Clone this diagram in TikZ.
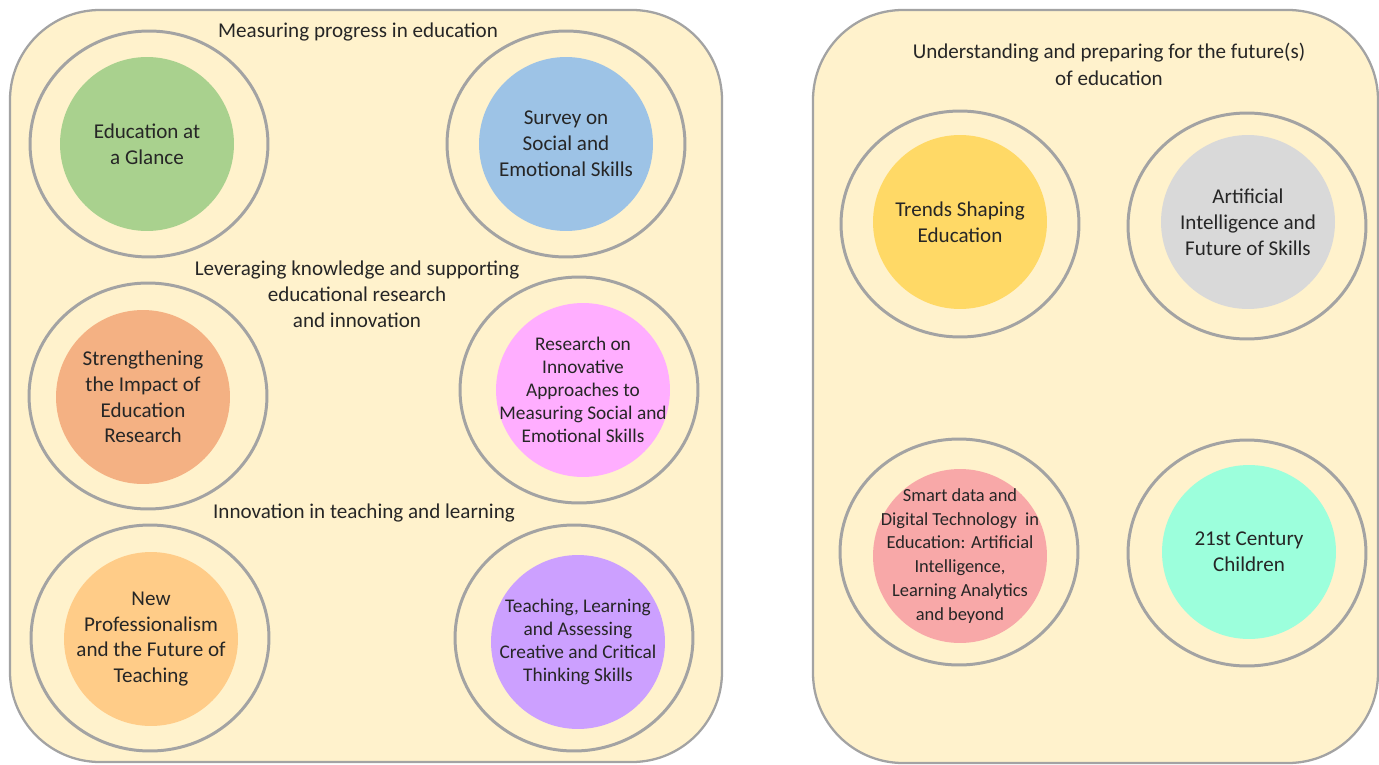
\documentclass[tikz,border=0pt]{standalone}
\usepackage{fontspec}
\setmainfont{Carlito}
\usetikzlibrary{shapes.geometric}
\definecolor{panelbg}{HTML}{FFF2CC}
\definecolor{ringgray}{HTML}{A3A3A3}
\definecolor{txt}{HTML}{262626}
\definecolor{cgreen}{HTML}{A9D18E}
\definecolor{cblue}{HTML}{9DC3E6}
\definecolor{corange}{HTML}{F4B183}
\definecolor{cpink}{HTML}{FFAEFF}
\definecolor{capricot}{HTML}{FFCC88}
\definecolor{cpurple}{HTML}{CCA0FF}
\definecolor{cyellow}{HTML}{FFD966}
\definecolor{cgrey}{HTML}{D9D9D9}
\definecolor{cred}{HTML}{F8A8A8}
\definecolor{cteal}{HTML}{9CFFDC}
\begin{document}
\begin{tikzpicture}[x=0.02cm, y=-0.02cm,
    panel/.style={draw=ringgray, line width=1.3pt, fill=panelbg, rounded corners=1.8cm},
    ring/.style={ellipse, draw=ringgray, line width=1.7pt, fill=panelbg,
        minimum width=4.76cm, minimum height=4.52cm, inner sep=0pt},
    topic/.style={circle, minimum size=3.48cm, inner sep=-0.5cm, align=center, text=txt,
        font=\fontsize{12}{14.7}\selectfont},
    small/.style={font=\fontsize{11}{13}\selectfont},
    heading/.style={align=center, text=txt, font=\fontsize{12}{14.7}\selectfont}]
\useasboundingbox (0,0) rectangle (1379,764);

% the two panels
\draw[panel] (10,10) rectangle (722,762);
\draw[panel] (813,10) rectangle (1378,763);

% left panel
\node (measuring) at (358,32) [heading] {Measuring progress in education};
\node (leveraging) at (357,294) [heading] {Leveraging knowledge and supporting\\educational research\\and innovation};
\node (innovation) at (364,513) [heading] {Innovation in teaching and learning};

\node (glance-ring) at (149,144) [ring] {};
\node (glance) at (147,144) [topic, fill=cgreen] {Education at\\a Glance};
\node (survey-ring) at (566,144) [ring] {};
\node (survey) at (566,144) [topic, fill=cblue] {Survey on\\Social and\\Emotional Skills};

\node (impact-ring) at (148,396) [ring] {};
\node (impact) at (143,397) [topic, fill=corange] {Strengthening\\the Impact of\\Education\\Research};
\node (approaches-ring) at (579,390) [ring] {};
\node (approaches) at (583,390) [topic, small, fill=cpink] {Research on\\Innovative\\Approaches to\\Measuring Social and\\Emotional Skills};

\node (teachers-ring) at (150,638) [ring] {};
\node (teachers) at (151,639) [topic, fill=capricot] {New\\Professionalism\\and the Future of\\Teaching};
\node (creative-ring) at (574,638) [ring] {};
\node (creative) at (578,642) [topic, small, fill=cpurple] {Teaching, Learning\\and Assessing\\Creative and Critical\\Thinking Skills};

% right panel
\node (futures) at (1109,64) [heading, font=\fontsize{12}{15.3}\selectfont] {Understanding and preparing for the future(s)\\of education};

\node (trends-ring) at (960,224) [ring] {};
\node (trends) at (960,222) [topic, fill=cyellow] {Trends Shaping\\Education};
\node (skills-ring) at (1247,226) [ring] {};
\node (skills) at (1248,222) [topic, fill=cgrey] {Artificial\\Intelligence and\\Future of Skills};

\node (smartdata-ring) at (959,552) [ring] {};
\node (smartdata) at (960,556) [topic, fill=cred, font=\fontsize{10.5}{13.6}\selectfont] {Smart data and\\Digital Technology\ \ in\\Education: Artificial\\Intelligence,\\Learning Analytics\\and beyond};
\node (children-ring) at (1247,553) [ring] {};
\node (children) at (1249,552) [topic, fill=cteal] {21st Century\\Children};
\end{tikzpicture}
\end{document}
